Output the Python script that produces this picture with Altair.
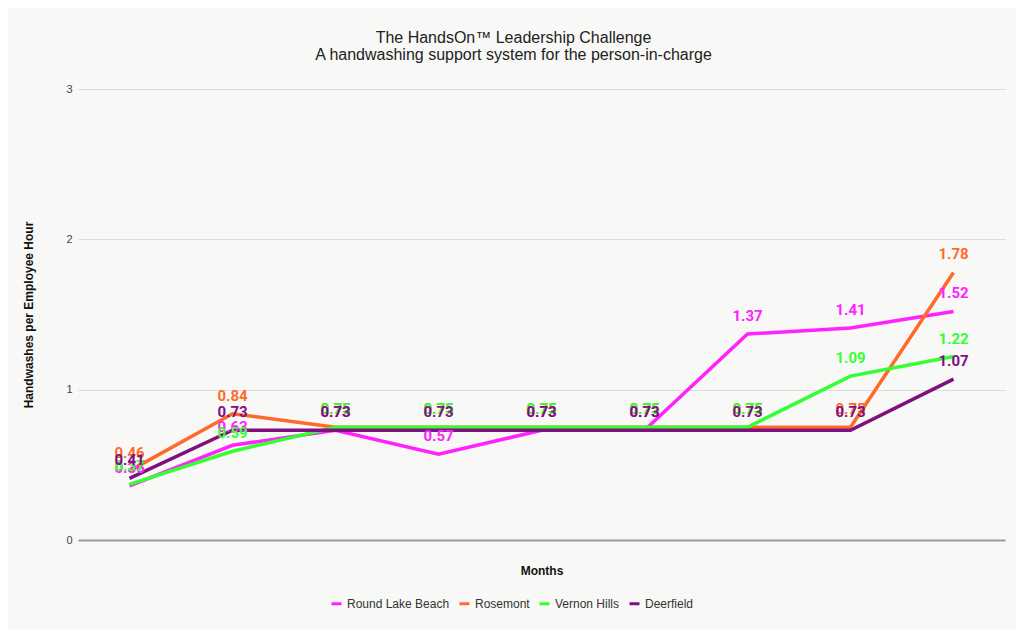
import altair as alt
import pandas as pd

months = [1, 2, 3, 4, 5, 6, 7, 8, 9]
series = ["Round Lake Beach", "Rosemont", "Vernon Hills", "Deerfield"]
round_lake = [0.36, 0.63, 0.73, 0.57, 0.73, 0.73, 1.37, 1.41, 1.52]
rosemont = [0.46, 0.84, 0.75, 0.75, 0.75, 0.75, 0.75, 0.75, 1.78]
vernon = [0.37, 0.59, 0.75, 0.75, 0.75, 0.75, 0.75, 1.09, 1.22]
deerfield = [0.41, 0.73, 0.73, 0.73, 0.73, 0.73, 0.73, 0.73, 1.07]
colors = ["#ff22ff", "#ff6a2b", "#33ff33", "#800f80"]

rows = []
for name, vals in zip(series, [round_lake, rosemont, vernon, deerfield]):
    for m, v in zip(months, vals):
        rows.append({"month": m, "series": name, "value": v})
df = pd.DataFrame(rows)

base = alt.Chart(df).encode(
    x=alt.X(
        "month:Q",
        scale=alt.Scale(domain=[0.5, 9.5], nice=False, zero=False),
        axis=alt.Axis(
            title="Months", labels=False, ticks=False, grid=False,
            domainColor="#9a9a9a", domainWidth=2,
            titleFontSize=12, titleFontWeight="bold", titleColor="#111",
            titleFont="Liberation Sans", titlePadding=25,
        ),
    ),
    y=alt.Y(
        "value:Q",
        scale=alt.Scale(domain=[0, 3], nice=False),
        axis=alt.Axis(
            values=[0, 1, 2, 3], format="d",
            title="Handwashes per Employee Hour", grid=True, gridColor="#dddddd",
            domain=False, ticks=False, labelPadding=6, labelFontSize=11,
            labelColor="#444", labelFont="Liberation Sans",
            titleFontSize=12, titleFontWeight="bold", titleColor="#111",
            titleFont="Liberation Sans", titlePadding=30,
        ),
    ),
    color=alt.Color(
        "series:N",
        scale=alt.Scale(domain=series, range=colors),
        legend=alt.Legend(
            title=None, orient="none", direction="horizontal",
            legendX=252, legendY=508, symbolType="stroke",
            symbolStrokeWidth=3, symbolSize=100, labelFontSize=12,
            labelFont="Liberation Sans", labelColor="#333", columnPadding=3,
            labelOffset=4, padding=0,
        ),
    ),
)

lines = base.mark_line(strokeWidth=3.5)
labels = base.mark_text(
    font="Roboto", fontWeight="bold", fontSize=15, dy=-13, baseline="alphabetic"
).encode(text=alt.Text("value:Q", format=".2f"))

chart = alt.layer(lines, labels).properties(
    width=927,
    height=451,
    title=alt.TitleParams(
        text=["The HandsOn™ Leadership Challenge",
              "A handwashing support system for the person-in-charge"],
        anchor="middle", dx=-28, offset=20, fontSize=16, fontWeight="normal",
        font="Liberation Sans", color="#222", lineHeight=17,
    ),
    background="#f8f9f6",
    padding={"left": 70, "top": 81, "right": 11, "bottom": 90},
    autosize=alt.AutoSizeParams(type="none"),
).configure_view(stroke=None)

chart.save("out.html", embed_options={"renderer": "svg", "actions": False})
